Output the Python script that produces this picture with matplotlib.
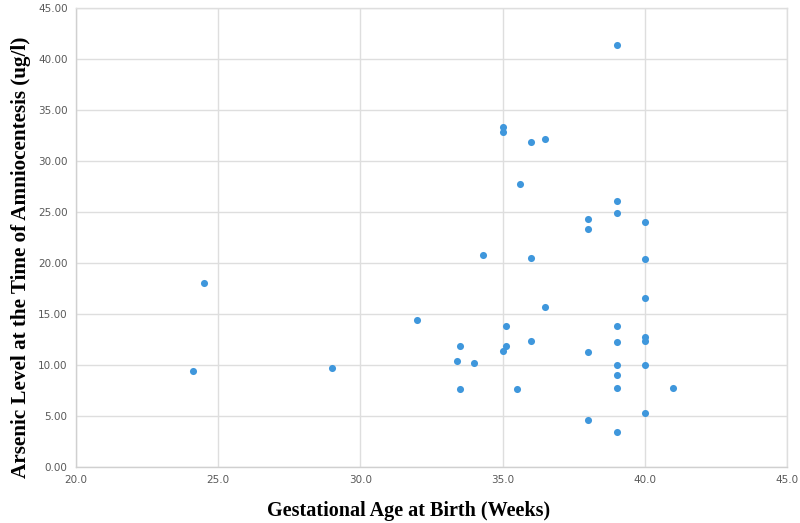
import numpy as np
import matplotlib.pyplot as plt
from matplotlib.ticker import FormatStrFormatter

# gestational age (weeks) and arsenic level (ug/l)
age = [24.1, 24.5, 29.0, 32.0, 33.4, 33.5, 33.5, 34.0, 34.3,
       35.0, 35.0, 35.0, 35.1, 35.1, 35.5, 35.6, 36.0, 36.0, 36.0,
       36.5, 36.5, 38.0, 38.0, 38.0, 38.0,
       39.0, 39.0, 39.0, 39.0, 39.0, 39.0, 39.0, 39.0, 39.0,
       40.0, 40.0, 40.0, 40.0, 40.0, 40.0, 40.0, 41.0]
arsenic = [9.4, 18.0, 9.7, 14.4, 10.4, 11.9, 7.6, 10.2, 20.8,
           33.3, 32.8, 11.4, 13.8, 11.9, 7.6, 27.7, 31.9, 20.5, 12.4,
           32.1, 15.7, 24.3, 23.3, 11.3, 4.6,
           41.4, 26.1, 24.9, 13.8, 12.3, 10.0, 9.0, 7.7, 3.4,
           24.0, 20.4, 16.6, 12.7, 12.4, 10.0, 5.3, 7.7]

xticks = [20, 25, 30, 35, 40, 45]
yticks = [0, 5, 10, 15, 20, 25, 30, 35, 40, 45]

fig = plt.figure(figsize=(8, 5.23), dpi=100)
ax = fig.add_axes([0.095, 0.107, 0.889, 0.878])

ax.scatter(age, arsenic, s=26, color='#3f97dc', zorder=3, linewidths=0)

ax.set_xlim(20, 45)
ax.set_ylim(0, 45)
ax.set_xticks(xticks)
ax.set_yticks(yticks)
ax.xaxis.set_major_formatter(FormatStrFormatter('%.1f'))
ax.yaxis.set_major_formatter(FormatStrFormatter('%.2f'))
ax.tick_params(length=0, labelsize=7.5, labelcolor='#595959', pad=6)
ax.grid(True, color='#dedede', linewidth=1)
for s in ax.spines.values():
    s.set_color('#dedede')
    s.set_linewidth(1)
ax.spines['bottom'].set_color('#d0d0d0')
ax.spines['left'].set_color('#d0d0d0')

ax.set_xlabel('Gestational Age at Birth (Weeks)', fontfamily='Liberation Serif',
              fontweight='bold', fontsize=14.5, va='center')
ax.set_ylabel('Arsenic Level at the Time of Amniocentesis (ug/l)', fontfamily='Liberation Serif',
              fontweight='bold', fontsize=15.2, va='center')
ax.xaxis.set_label_coords(0.467, -0.095)
ax.yaxis.set_label_coords(-0.078, 0.456)

fig.savefig('out.png', dpi=100)
